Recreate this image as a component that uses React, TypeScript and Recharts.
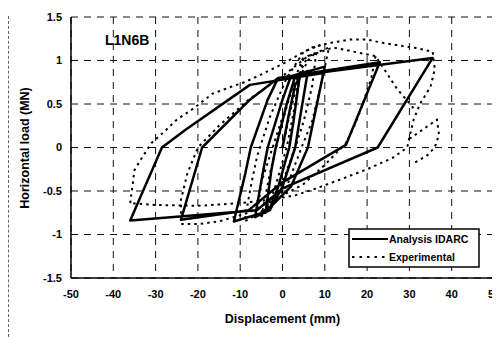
import React from 'react';
import { LineChart, Line, XAxis, YAxis, CartesianGrid } from 'recharts';

const xTicks = [-50, -40, -30, -20, -10, 0, 10, 20, 30, 40, 50];
const yTicks = [-1.5, -1, -0.5, 0, 0.5, 1, 1.5];

const chartTitle = 'L1N6B';
const xLabel = 'Displacement (mm)';
const yLabel = 'Horizontal load (MN)';
const seriesNames = ['Analysis IDARC', 'Experimental'];

// Analysis IDARC: [displacement mm, load MN] in loading order
const analysisPath: [number, number][] = [
  [0, 0], [1.5, 0.38], [3, 0.72], [4, 0.8],
  [2.6, 0.3], [1.6, 0], [-1, -0.45], [-3, -0.7], [-4, -0.75],
  [-2.6, -0.25], [-1.6, 0], [1, 0.5], [3, 0.82], [6, 0.88],
  [4, 0.3], [3, 0], [0, -0.45], [-3, -0.72], [-6.5, -0.8],
  [-4.5, -0.25], [-3.5, 0], [0, 0.55], [2, 0.82], [10, 0.93],
  [7.5, 0.35], [6, 0], [2, -0.45], [-4, -0.74], [-11.5, -0.85],
  [-8.8, -0.3], [-7.5, 0], [-3.5, 0.55], [-1, 0.8], [23, 0.98],
  [15, 0.03], [0, -0.4], [-8, -0.72], [-24, -0.83],
  [-19, 0], [-7.7, 0.55], [-1, 0.8], [35.5, 1.03],
  [22.5, 0], [0, -0.47], [-6, -0.72], [-36, -0.84],
  [-28.5, 0], [-23, 0.2], [-7.7, 0.72], [10, 0.86],
];

// Experimental: outer (largest) cycle
const expOuter: [number, number][] = [
  [-36, -0.64], [-35.5, -0.45], [-35, -0.26], [-33, -0.1], [-31, 0.05], [-28, 0.18],
  [-25, 0.32], [-21, 0.45], [-16.5, 0.62], [-12, 0.7], [-9, 0.75], [-5, 0.84],
  [0, 0.96], [4, 1.07], [7, 1.15], [11, 1.2], [16, 1.24], [20, 1.24], [24, 1.2],
  [28, 1.17], [32, 1.14], [35.5, 1.1], [36, 0.9], [35, 0.7], [32.5, 0.5], [31, 0.32],
  [30, 0.12], [29.5, 0], [26, -0.12], [20, -0.25], [13, -0.38], [8, -0.47], [3, -0.55],
  [-3, -0.6], [-10, -0.64], [-20, -0.67], [-30, -0.66], [-36, -0.64],
];

// Experimental: right-hand curl after the largest positive excursion
const expCurl: [number, number][] = [
  [30, 0.1], [33, 0.2], [36.5, 0.32], [37, 0.15], [36, 0], [34, -0.1], [31, -0.18],
];

// Experimental: intermediate cycle (~22 mm / -24 mm)
const expMid: [number, number][] = [
  [22, 1.05], [21, 0.8], [19, 0.5], [17, 0.25], [15, 0.05], [10, -0.2], [5, -0.42],
  [0, -0.55], [-8, -0.75], [-15, -0.85], [-20, -0.88], [-24, -0.88], [-24, -0.6],
  [-22.5, -0.3], [-20, 0], [-15, 0.25], [-8, 0.55], [0, 0.82], [6, 1.05], [12, 1.15],
  [22, 1.05], [27, 0.68], [31, 0.45],
];

// Experimental: small central cycles
const expCenter: [number, number][] = [
  [0, 0], [2, 0.45], [4, 0.8], [6, 1.0], [8, 1.1], [7, 0.7], [5, 0.3], [3, 0],
  [0, -0.4], [-3, -0.65], [-6, -0.78], [-5, -0.4], [-3, -0.1], [-1, 0.2], [2, 0.65],
  [6, 1.05], [11, 1.15], [9, 0.7], [7, 0.3], [4.5, 0], [1, -0.45], [-4, -0.72],
  [-9, -0.85], [-7.5, -0.45], [-6, -0.1], [-3, 0.35], [1, 0.8], [5, 1.1], [9, 1.18],
];

// Experimental: first small cycle
const expFirst: [number, number][] = [
  [-5, -0.8], [-3, -0.3], [0, 0.3], [3, 0.8], [5, 1.05], [3, 0.5], [1, 0], [-2, -0.5], [-5, -0.8],
];

const rows = (pts: [number, number][]) => pts.map(([x, y]) => ({ x, y }));

const font = '"Liberation Sans", Arial, sans-serif';

const LegendBox = () => (
  <svg width={132} height={40} style={{ display: 'block' }}>
    <rect x={1} y={1} width={130} height={38} fill="#fff" stroke="#000" strokeWidth={1.5} />
    <line x1={4} y1={11} x2={40} y2={11} stroke="#000" strokeWidth={2} />
    <text x={41} y={15} fontFamily={font} fontWeight="bold" fontSize={10.5} fill="#000">
      {seriesNames[0]}
    </text>
    <line x1={4} y1={29} x2={40} y2={29} stroke="#000" strokeWidth={2} strokeDasharray="2.5 5" />
    <text x={41} y={33} fontFamily={font} fontWeight="bold" fontSize={10.5} fill="#000">
      {seriesNames[1]}
    </text>
  </svg>
);

export default function App() {
  const tickStyle = { fontFamily: font, fontWeight: 'bold' as const, fontSize: 11, fill: '#000' };
  const dotted = { stroke: '#000', strokeWidth: 2, strokeDasharray: '2.5 4' };
  return (
    <div style={{ position: 'relative', width: 492, height: 329, fontFamily: font, background: '#fff' }}>
      <div style={{ position: 'absolute', left: 0, top: -3, width: 492, borderTop: '2px dashed #444' }} />
      <div style={{ position: 'absolute', left: 0, top: 8, height: 321, borderLeft: '1px dashed #666' }} />
      <LineChart width={492} height={329} margin={{ top: 9, right: 6, bottom: 0, left: 0 }}>
        <CartesianGrid stroke="#111" strokeDasharray="7 6" strokeWidth={1} />
        <XAxis
          type="number"
          dataKey="x"
          domain={[-50, 50]}
          ticks={xTicks}
          allowDataOverflow
          height={59}
          tickLine={false}
          tickSize={6}
          tickMargin={6}
          axisLine={{ stroke: '#000', strokeWidth: 1.5 }}
          tick={tickStyle}
          label={{
            value: xLabel,
            position: 'insideBottom',
            offset: 14,
            style: { fontFamily: font, fontWeight: 'bold', fontSize: 12.5, fill: '#000' },
          }}
        />
        <YAxis
          type="number"
          dataKey="y"
          domain={[-1.5, 1.5]}
          ticks={yTicks}
          allowDataOverflow
          width={63}
          tickLine={false}
          tickSize={6}
          tickMargin={3}
          axisLine={{ stroke: '#000', strokeWidth: 1.5 }}
          tick={tickStyle}
        />
        <Line data={rows(expOuter)} dataKey="y" {...dotted} dot={false} isAnimationActive={false} />
        <Line data={rows(expCurl)} dataKey="y" {...dotted} dot={false} isAnimationActive={false} />
        <Line data={rows(expMid)} dataKey="y" {...dotted} dot={false} isAnimationActive={false} />
        <Line data={rows(expCenter)} dataKey="y" {...dotted} dot={false} isAnimationActive={false} />
        <Line data={rows(expFirst)} dataKey="y" {...dotted} dot={false} isAnimationActive={false} />
        <Line data={rows(analysisPath)} dataKey="y" stroke="#000" strokeWidth={2.5} strokeLinejoin="round" dot={false} isAnimationActive={false} />
      </LineChart>
      <div style={{ position: 'absolute', left: 340, top: 220 }}>
        <LegendBox />
      </div>
      <div
        style={{
          position: 'absolute', left: 97, top: 24, fontSize: 14, fontWeight: 'bold',
          lineHeight: '16px', color: '#000', whiteSpace: 'nowrap',
        }}
      >
        {chartTitle}
      </div>
      <div style={{ position: 'absolute', left: 17, top: 140, width: 0, height: 0 }}>
        <div
          style={{
            position: 'absolute', left: 0, top: 0, transform: 'translate(-50%, -50%) rotate(-90deg)',
            fontSize: 12.5, fontWeight: 'bold', whiteSpace: 'nowrap', color: '#000', lineHeight: '14px',
          }}
        >
          {yLabel}
        </div>
      </div>
    </div>
  );
}
